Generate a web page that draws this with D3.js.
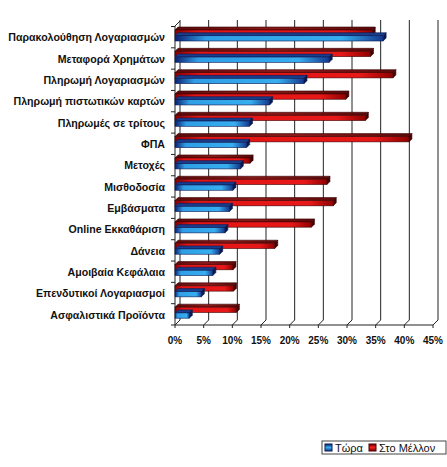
<!DOCTYPE html>
<html>
<head>
<meta charset="utf-8">
<script src="https://cdn.jsdelivr.net/npm/d3@7"></script>
<style>
  body { margin: 0; background: #fff; }
  svg { display: block; font-family: "Liberation Sans", Arial, sans-serif; }
</style>
</head>
<body>
<div id="chart"></div>
<script>
const categories = [
    'Παρακολούθηση Λογαριασμών',
    'Μεταφορά Χρημάτων',
    'Πληρωμή Λογαριασμών',
    'Πληρωμή πιστωτικών καρτών',
    'Πληρωμές σε τρίτους',
    'ΦΠΑ',
    'Μετοχές',
    'Μισθοδοσία',
    'Εμβάσματα',
    'Online Εκκαθάριση',
    'Δάνεια',
    'Αμοιβαία Κεφάλαια',
    'Επενδυτικοί Λογαριασμοί',
    'Ασφαλιστικά Προϊόντα'
];
const now = [36.3, 26.9, 22.5, 16.5, 13.0, 12.5, 11.4, 10.1, 9.5, 8.7, 7.8, 6.6, 4.6, 2.5];
const future = [34.4, 34.1, 38.0, 29.8, 33.2, 40.8, 13.1, 26.5, 27.6, 23.8, 17.4, 10.1, 10.2, 10.7];
const ticks = [0, 5, 10, 15, 20, 25, 30, 35, 40, 45];
const seriesNames = ['Τώρα', 'Στο Μέλλον'];

const width = 447, height = 467;
const depth = 5;   // depth of the 3D wall
const barDepth = 3;

const svg = d3.select('#chart').append('svg')
    .attr('width', width)
    .attr('height', height);

const defs = svg.append('defs');
function grad(id, stops, horizontal) {
    const g = defs.append('linearGradient').attr('id', id)
        .attr('x1', 0).attr('y1', 0)
        .attr('x2', horizontal ? 1 : 0).attr('y2', horizontal ? 0 : 1);
    stops.forEach(([o, c]) => g.append('stop').attr('offset', o).attr('stop-color', c));
}
grad('redFront', [[0, '#8a0000'], [0.12, '#e41414'], [0.85, '#e81818'], [1, '#900000']], true);
grad('blueFront', [[0, '#0c2070'], [0.15, '#2f9ee6'], [0.8, '#36aef0'], [1, '#14378c']], true);
grad('redTop', [[0, '#5a0a0a'], [0.5, '#8a1a1a'], [1, '#5a0a0a']], true);
grad('legendBlue', [[0, '#0c2070'], [0.5, '#36aef0'], [1, '#14378c']], false);
grad('legendRed', [[0, '#700000'], [0.5, '#ee2020'], [1, '#800000']], false);

const x = d3.scaleLinear().domain([0, 45]).range([175, 433]);
const y = d3.scaleBand().domain(categories).range([26.5, 325]);
const ySub = d3.scaleBand().domain(['future', 'now']).range([3.5, 14.5]).paddingInner(0.08);

const plotTop = 26, plotBottom = 325;

// back wall gridlines + floor lines
const grid = svg.append('g');
ticks.forEach(t => {
    const xf = x(t), xb = x(t) + depth;
    grid.append('line')
        .attr('x1', xb).attr('y1', plotTop - depth - 1)
        .attr('x2', xb).attr('y2', plotBottom - depth)
        .attr('stroke', '#222').attr('stroke-width', 1);
    grid.append('line')
        .attr('x1', xb).attr('y1', plotBottom - depth)
        .attr('x2', xf).attr('y2', plotBottom)
        .attr('stroke', '#222').attr('stroke-width', 1);
});
// left wall
grid.append('line')
    .attr('x1', x(0)).attr('y1', plotTop).attr('x2', x(0)).attr('y2', plotBottom)
    .attr('stroke', '#222');
grid.append('line')
    .attr('x1', x(0)).attr('y1', plotTop).attr('x2', x(0) + depth).attr('y2', plotTop - depth)
    .attr('stroke', '#222');
// front axis
svg.append('line')
    .attr('x1', x(0)).attr('y1', plotBottom).attr('x2', x(45)).attr('y2', plotBottom)
    .attr('stroke', '#222');

// category ticks on the left axis
categories.concat([null]).forEach(c => {
    const yy = c ? y(c) : plotBottom;
    svg.append('line')
        .attr('x1', x(0) - 4).attr('x2', x(0))
        .attr('y1', yy).attr('y2', yy)
        .attr('stroke', '#222');
});
ticks.forEach(t => {
    svg.append('line')
        .attr('x1', x(t)).attr('x2', x(t))
        .attr('y1', plotBottom).attr('y2', plotBottom + 3)
        .attr('stroke', '#222');
});

// bars
const rows = categories.map((c, i) => ({ c, now: now[i], future: future[i] }));
const series = [
    { key: 'future', front: 'url(#redFront)', topFill: 'url(#redTop)', side: '#4a0000', stroke: '#3a0000' },
    { key: 'now', front: 'url(#blueFront)', topFill: '#1a3c8c', side: '#0a1a50', stroke: '#0a1a50' }
];

series.forEach(s => {
    const g = svg.append('g');
    rows.forEach(r => {
        const y0 = y(r.c) + ySub(s.key);
        const h = ySub.bandwidth();
        const x0 = x(0), x1 = x(r[s.key]);
        // top face
        g.append('path')
            .attr('d', `M${x0},${y0} L${x0 + barDepth},${y0 - barDepth} L${x1 + barDepth},${y0 - barDepth} L${x1},${y0} Z`)
            .attr('fill', s.topFill).attr('stroke', s.stroke).attr('stroke-width', 0.6);
        // right face
        g.append('path')
            .attr('d', `M${x1},${y0} L${x1 + barDepth},${y0 - barDepth} L${x1 + barDepth},${y0 + h - barDepth} L${x1},${y0 + h} Z`)
            .attr('fill', s.side).attr('stroke', s.stroke).attr('stroke-width', 0.6);
        // front face
        g.append('rect')
            .attr('x', x0).attr('y', y0)
            .attr('width', x1 - x0).attr('height', h)
            .attr('fill', s.front).attr('stroke', s.stroke).attr('stroke-width', 0.6);
    });
});

// category labels
svg.append('g').selectAll('text')
    .data(categories)
    .join('text')
    .attr('x', 165)
    .attr('y', d => y(d) + y.bandwidth() / 2 + 1.5)
    .attr('text-anchor', 'end')
    .attr('dominant-baseline', 'middle')
    .style('font-size', '10.6px')
    .style('font-weight', 'bold')
    .attr('fill', '#111')
    .text(d => d);

// x tick labels
svg.append('g').selectAll('text')
    .data(ticks)
    .join('text')
    .attr('x', d => x(d))
    .attr('y', plotBottom + 19)
    .attr('text-anchor', 'middle')
    .style('font-size', '10px')
    .style('font-weight', 'bold')
    .attr('fill', '#111')
    .text(d => d + '%');

// legend
const legend = svg.append('g').attr('transform', 'translate(322,441)');
legend.append('rect')
    .attr('x', 0).attr('y', 0).attr('width', 124).attr('height', 13)
    .attr('fill', '#fff').attr('stroke', '#444');
const legendItems = [
    { name: seriesNames[0], fill: 'url(#legendBlue)', stroke: '#0a1a50', x: 3 },
    { name: seriesNames[1], fill: 'url(#legendRed)', stroke: '#4a0000', x: 47 }
];
legendItems.forEach(it => {
    legend.append('rect')
        .attr('x', it.x).attr('y', 3).attr('width', 7).attr('height', 7)
        .attr('fill', it.fill).attr('stroke', it.stroke);
    legend.append('text')
        .attr('x', it.x + 10).attr('y', 10.5)
        .style('font-size', '11px')
        .attr('fill', '#111')
        .text(it.name);
});
</script>
</body>
</html>
